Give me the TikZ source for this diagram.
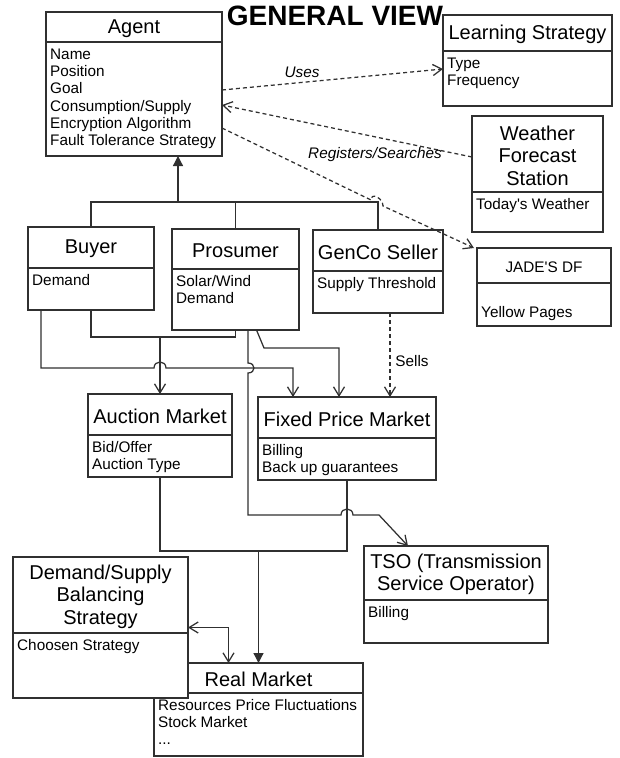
\documentclass[tikz,border=0pt]{standalone}
\usepackage{fontspec}
\setmainfont{Liberation Sans}
\usetikzlibrary{arrows.meta}
\definecolor{lncol}{HTML}{303030}

% class box: name, x, y, width, height, title height, title, fields
\newcommand\umlclass[8]{%
  \node[cls, minimum width=#4pt, minimum height=#5pt] (#1) at (#2,#3) {};
  \draw[wire] ([yshift=-#6pt]#1.north west) -- ([yshift=-#6pt]#1.north east);
  \node[ttl] (#1-name) at ([yshift=-#6pt/2-1.5pt]#1.north) {#7};
  \node[fld] (#1-attr) at ([xshift=4pt,yshift=-#6pt-5pt]#1.north west) {\strut#8};
}

\begin{document}
\begin{tikzpicture}[x=1pt,y=-1pt,
  cls/.style={draw=lncol, fill=white, line width=1.25pt, inner sep=0pt, outer sep=0pt, anchor=north west},
  ttl/.style={inner sep=0pt, align=center, font=\fontsize{20}{22.5}\selectfont},
  fld/.style={inner sep=0pt, anchor=north west, align=left, font=\fontsize{15.3}{17.3}\selectfont},
  lbl/.style={inner sep=0pt, font=\fontsize{15.3}{17.3}\selectfont},
  wire/.style={draw=lncol, line width=1.25pt},
  dep/.style={wire, dash pattern=on 4pt off 3pt},
  >={Straight Barb[length=9pt,width=11pt]},
  tri/.style={-{Triangle[length=10pt,width=10pt]}}]
\useasboundingbox (0,0) rectangle (619,758);

% Heading
\node[inner sep=0pt, font=\bfseries\fontsize{28}{30}\selectfont] (heading) at (335,16) {GENERAL VIEW};

% Classes
\umlclass{agent}{46}{12}{176}{144}{30}{Agent}{Name\\Position\\Goal\\Consumption/Supply\\Encryption Algorithm\\Fault Tolerance Strategy}
\umlclass{learning}{443}{15}{169}{91}{36}{Learning Strategy}{Type\\Frequency}
\umlclass{weather}{472}{116}{131}{116}{76}{Weather\\Forecast\\Station}{Today\textquotesingle s Weather}
\umlclass{buyer}{28}{227}{126}{83}{41}{Buyer}{Demand}
\umlclass{prosumer}{172}{229}{127}{101}{40}{Prosumer}{Solar/Wind\\Demand}
\umlclass{genco}{313}{230}{130}{83}{41}{GenCo Seller}{Supply Threshold}
\umlclass{jade}{477}{248}{134}{78}{35}{\fontsize{15.3}{17.3}\selectfont JADE\textquotesingle S DF}{\\Yellow Pages}
\umlclass{auction}{88}{394}{144}{83}{41}{Auction Market}{Bid/Offer\\Auction Type}
\umlclass{fixed}{258}{397}{178}{83}{41}{Fixed Price Market}{Billing\\Back up guarantees}
\umlclass{tso}{364}{546}{184}{97}{54}{TSO (Transmission\\Service Operator)}{Billing}
\umlclass{real}{154}{663}{209}{93}{30}{Real Market}{Resources Price Fluctuations\\Stock Market\\...}
\umlclass{ds}{13}{557}{175}{141}{76}{Demand/Supply\\Balancing\\Strategy}{Choosen Strategy}

% Inheritance
\draw[wire] (buyer.north) |- (genco.north |- 0,202) -- (genco.north);
\draw[wire] (prosumer.north) -- (prosumer.north |- 0,202);
\draw[wire,tri] (178,202) -- (agent.south -| 178,0);

% Dependencies
\draw[dep,->] (agent.east |- 0,90) -- (learning.west |- 0,69);
\node[lbl,font=\fontsize{15.3}{17.3}\selectfont\itshape] (uses) at (302,72) {Uses};
\draw[dep,->] (weather.west |- 0,157) -- (agent.east |- 0,105);
\node[lbl,font=\fontsize{15.3}{17.3}\selectfont\itshape] (registers) at (375,155) {Registers/Searches};
\draw[dep,->] (agent.east |- 0,128) -- (371,200) .. controls +(0,-8) and +(0,-8) .. (383,206) -- ([xshift=-3pt]jade.north west);
\draw[dep,->] (genco.south -| 390,0) -- (fixed.north -| 390,0);
\node[lbl] (sells) at (412,361) {Sells};

% Buyer and Prosumer to the markets
\draw[wire] (buyer.south) |- (prosumer.south |- 0,337) -- (prosumer.south);
\draw[wire,->] (auction.north |- 0,337) -- (auction.north);
\draw[wire,->] ([xshift=-50pt]buyer.south) -- (41,368) -- (154,368) .. controls +(0,-8) and +(0,-8) .. (166,368)
  -- (293,368) -- ([xshift=-54pt]fixed.north);
\draw[wire,->] ([xshift=21pt]prosumer.south) -- (264,348) -- (339,348) -- ([xshift=-8pt]fixed.north);
\draw[wire,->] ([xshift=12.5pt]prosumer.south) -- (248,363) .. controls +(8,0) and +(8,0) .. (248,373)
  -- (248,515) -- (341,515) .. controls +(0,-8) and +(0,-8) .. (353,515) -- (379,515) -- ([xshift=44pt]tso.north west);

% Markets to the real market
\draw[wire] (auction.south) |- (fixed.south |- 0,551) -- (fixed.south);
\draw[wire,tri] (real.north |- 0,551) -- (real.north);
\draw[wire,<->] (ds.east) -| ([xshift=-30pt]real.north);

\end{tikzpicture}
\end{document}
